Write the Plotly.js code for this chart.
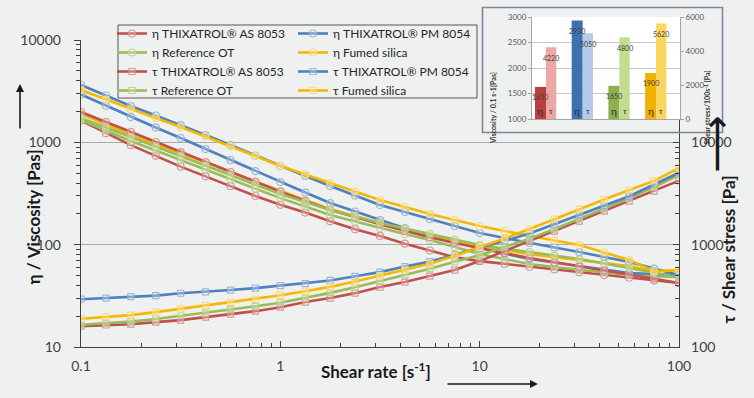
<!DOCTYPE html>
<html><head><meta charset="utf-8">
<script src="https://cdn.plot.ly/plotly-3.0.1.min.js"></script>
<style>html,body{margin:0;padding:0;background:#eff1f0;overflow:hidden}#chart{width:754px;height:398px}</style>
</head><body><div id="chart"></div>
<script>
// ---------- data ----------
const shearRate = [0.1, 0.1334, 0.1778, 0.2371, 0.3162, 0.4217, 0.5623, 0.7499, 1, 1.334, 1.778, 2.371, 3.162, 4.217, 5.623, 7.499, 10, 13.34, 17.78, 23.71, 31.62, 42.17, 56.23, 74.99, 100];

const etaAS8053Up   = [1978, 1579, 1261, 1007, 804, 642, 513, 411, 330, 268, 218, 186, 158, 137, 118, 104, 92, 82.5, 74, 67, 61, 55.8, 51, 46.5, 42.2];
const etaAS8053Down = [1630, 1229, 939, 738, 579, 465, 373, 299, 245, 206, 169, 141.7, 121.8, 102.2, 87.7, 75.3, 69.1, 64.9, 61, 57.3, 53.8, 50.5, 47.5, 44.6, 42.2];
const etaRefOTUp    = [1728, 1396, 1127, 910, 735, 593, 479, 387, 312, 261, 218, 188, 162.6, 143.6, 126.9, 112, 99.1, 91.6, 84.7, 78.3, 72.3, 65.4, 59.1, 53.3, 48];
const etaRefOTDown  = [1650, 1304, 1030, 831, 671, 542, 438, 353, 285, 236, 195, 168, 145.3, 127, 110.9, 94.7, 80.9, 72.3, 64.6, 60.4, 56.5, 53.4, 50.5, 49, 48];
const etaPM8054Up   = [3632, 2870, 2263, 1828, 1476, 1179, 941, 743, 587, 469, 374, 302, 244, 208, 178, 152, 129.9, 116, 103.6, 93.7, 84.7, 75.7, 67.6, 58.4, 50.5];
const etaPM8054Down = [2930, 2275, 1767, 1395, 1102, 860, 671, 524, 409, 323, 255, 211, 174, 145, 121.4, 106, 92.6, 81.8, 72.3, 66.8, 61.8, 57.1, 52.8, 51.6, 50.5];
const etaFumedUp    = [3245, 2620, 2116, 1728, 1411, 1139, 920, 735, 587, 485, 400, 330, 273, 233, 199, 174, 152, 136, 121.4, 110, 99.1, 84, 71, 55, 56.2];
const etaFumedDown  = [1900, 1497, 1179, 963, 786, 635, 513, 414, 334, 273, 223, 190, 162.6, 140.5, 121.4, 108.5, 96.9, 88.5, 80.9, 75.6, 70.7, 66.1, 61.8, 55, 56.2];

const tauAS8053 = [160, 164, 167, 175, 183, 196, 210, 224, 245, 275, 301, 336, 385, 431, 493, 565, 691, 866, 1084, 1358, 1701, 2131, 2669, 3342, 4220];
const tauRefOT  = [165, 170, 177, 188, 202, 214, 232, 250, 271, 301, 338, 383, 440, 509, 582, 680, 790, 950, 1140, 1420, 1780, 2240, 2830, 3650, 4800];
const tauPM8054 = [293, 300, 310, 318, 335, 346, 360, 376, 397, 417, 447, 491, 539, 611, 683, 795, 926, 1091, 1285, 1584, 1954, 2408, 2969, 3870, 5050];
const tauFumed  = [189, 198, 205, 219, 236, 254, 273, 293, 320, 350, 387, 436, 498, 566, 650, 780, 940, 1150, 1420, 1780, 2220, 2760, 3420, 4200, 5620];

const matAS = 'THIXATROL® AS 8053';
const matRef = 'Reference OT';
const matPM = 'THIXATROL® PM 8054';
const matFumed = 'Fumed silica';

// inset (order: AS 8053, PM 8054, Reference OT, Fumed silica)
const insetIndex = [0, 1, 2, 3];
const insetEta = [1630, 2930, 1650, 1900];
const insetTau = [4220, 5050, 4800, 5620];

const xTickVals = [0.1, 1, 10, 100];
const xTickText = ['0.1', '1', '10', '100'];
const etaTickVals = [10, 100, 1000, 10000];
const etaTickText = ['10', '100', '1000', '10000'];
const tauTickVals = [100, 1000, 10000];
const tauTickText = ['100', '1000', '10000'];
const insetEtaTicks = [1000, 1500, 2000, 2500, 3000];
const insetTauTicks = [0, 2000, 4000, 6000];

// ---------- styling ----------
const FONT = 'Lato, "Open Sans", sans-serif';
const BG = '#eff1f0';
const LC = {red:'#c0504d', green:'#9bbb59', blue:'#4f81bd', yellow:'#f5b800'};
const MC = {red:'rgba(214,140,138,0.9)', green:'rgba(184,210,136,0.9)', blue:'rgba(146,176,216,0.9)', yellow:'rgba(250,216,110,0.95)'};

function series(name, y, axis, col, sym, legend, show) {
  return {type:'scatter', mode:'lines+markers', name:name, x:shearRate, y:y,
    xaxis:'x', yaxis:axis, legend:legend, showlegend:show, hoverinfo:'skip',
    line:{color:LC[col], width:2.6},
    marker:{symbol:sym, size:sym === 'circle' ? 7 : 6, color:'rgba(255,255,255,0.25)', line:{color:MC[col], width:1.2}}};
}

const traces = [
  series('η ' + matAS, etaAS8053Down, 'y', 'red', 'circle', 'legend', false),
  series('η ' + matRef, etaRefOTDown, 'y', 'green', 'circle', 'legend', false),
  series('η ' + matPM, etaPM8054Down, 'y', 'blue', 'circle', 'legend2', false),
  series('η ' + matFumed, etaFumedDown, 'y', 'yellow', 'circle', 'legend2', false),
  series('η ' + matAS, etaAS8053Up, 'y', 'red', 'circle', 'legend', true),
  series('η ' + matRef, etaRefOTUp, 'y', 'green', 'circle', 'legend', true),
  series('τ ' + matAS, tauAS8053, 'y2', 'red', 'square', 'legend', true),
  series('τ ' + matRef, tauRefOT, 'y2', 'green', 'square', 'legend', true),
  series('η ' + matPM, etaPM8054Up, 'y', 'blue', 'circle', 'legend2', true),
  series('η ' + matFumed, etaFumedUp, 'y', 'yellow', 'circle', 'legend2', true),
  series('τ ' + matPM, tauPM8054, 'y2', 'blue', 'square', 'legend2', true),
  series('τ ' + matFumed, tauFumed, 'y2', 'yellow', 'square', 'legend2', true),
  {type:'bar', x:insetIndex, y:insetEta, xaxis:'x3', yaxis:'y4', offset:-0.3, width:0.3,
   marker:{color:['#b9403c', '#3f70b0', '#8db04c', '#f2b000']}, showlegend:false, hoverinfo:'skip'},
  {type:'bar', x:insetIndex, y:insetTau, xaxis:'x3', yaxis:'y5', offset:0, width:0.28,
   marker:{color:['#eda8a6', '#b6cbe8', '#c2dc90', '#fbd55e']}, showlegend:false, hoverinfo:'skip'}
];

const W = 754, H = 398;
const px = v => v / W;
const py = v => 1 - v / H;
const axisFont = {family:FONT, size:14, color:'#404040'};
const insetFont = {family:FONT, size:8, color:'#595959'};
const titleFont = {family:FONT, size:17, color:'#1a1a1a'};
const arrowStyle = {text:'', showarrow:true, arrowhead:2, arrowsize:1, arrowwidth:1.6, arrowcolor:'#1a1a1a', xref:'paper', yref:'paper', axref:'paper', ayref:'paper'};

const annotations = [
  {xref:'paper', yref:'paper', x:px(20), y:py(217), text:'<b>η / Viscosity [Pas]</b>', textangle:-90, showarrow:false, font:titleFont},
  Object.assign({}, arrowStyle, {x:px(20), y:py(84), ax:px(20), ay:py(130)}),
  {xref:'paper', yref:'paper', x:px(376), y:py(384), text:'<b>Shear rate [s<sup>-1</sup>]</b>', showarrow:false, font:titleFont},
  Object.assign({}, arrowStyle, {x:px(538), y:py(384), ax:px(446), ay:py(384)}),
  {xref:'paper', yref:'paper', x:px(740), y:py(250), text:'<b>τ / Shear stress [Pa]</b>', textangle:-90, showarrow:false, font:titleFont},
  {xref:'paper', yref:'paper', x:px(740), y:py(114), text:'⟶', textangle:-90, showarrow:false, font:{family:'DejaVu Sans', size:40, color:'#1a1a1a'}},
  {xref:'paper', yref:'paper', x:px(493), y:py(70), text:'<b>Viscosity / 0.1 s-1[Pas]</b>', textangle:-90, showarrow:false, font:{family:FONT, size:7, color:'#333'}},
  {xref:'paper', yref:'paper', x:px(713), y:py(69), text:'<b>Shear stress/100s<sup>-1</sup> [Pa]</b>', textangle:-90, showarrow:false, font:{family:FONT, size:7, color:'#333'}}
];
insetIndex.forEach((i, k) => {
  annotations.push({xref:'x3', yref:'y4', x:i - 0.15, y:insetEta[k], text:String(insetEta[k]), showarrow:false, yanchor:'top', yshift:-4, font:{family:FONT, size:7, color:'#404040'}});
  annotations.push({xref:'x3', yref:'y5', x:i + 0.14, y:insetTau[k], text:String(insetTau[k]), showarrow:false, yanchor:'top', yshift:-5, font:{family:FONT, size:7, color:'#404040'}});
  annotations.push({xref:'x3', yref:'y4 domain', x:i - 0.15, y:0, text:'η', showarrow:false, yanchor:'bottom', yshift:0, font:{family:FONT, size:10, color:'#1f2d4d'}});
  annotations.push({xref:'x3', yref:'y4 domain', x:i + 0.14, y:0, text:'τ', showarrow:false, yanchor:'bottom', yshift:1, font:{family:FONT, size:8, color:'#1f2d4d'}});
});

const layout = {
  width:W, height:H,
  margin:{l:0, r:0, t:0, b:0},
  paper_bgcolor:BG, plot_bgcolor:'#ffffff',
  font:{family:FONT, color:'#333'},
  barmode:'overlay',
  xaxis:{type:'log', domain:[px(81), px(679)], range:[-1, 2], anchor:'y',
    showline:true, linecolor:'#404040', linewidth:1.3, ticks:'inside', ticklen:6, tickcolor:'#404040',
    tickmode:'array', tickvals:xTickVals, ticktext:xTickText, tickfont:axisFont, ticklabelstandoff:6,
    showgrid:false, zeroline:false,
    minor:{ticks:'inside', ticklen:4, dtick:'D1', tickcolor:'#404040', showgrid:false}},
  yaxis:{type:'log', domain:[1 - 347 / H, 1 - 40 / H], range:[1, 4], anchor:'x',
    showline:true, linecolor:'#404040', linewidth:1.3, ticks:'outside', ticklen:6, tickcolor:'#404040',
    tickmode:'array', tickvals:etaTickVals, ticktext:etaTickText, tickfont:axisFont, ticklabelstandoff:10,
    showgrid:true, gridcolor:'#a9a9a9', gridwidth:1, zeroline:false,
    minor:{ticks:'outside', ticklen:4, dtick:'D1', tickcolor:'#404040', showgrid:false}},
  yaxis2:{type:'log', overlaying:'y', side:'right', anchor:'x', range:[2, 5],
    showline:true, linecolor:'#404040', linewidth:1.3, ticks:'inside', ticklen:6, tickcolor:'#404040',
    tickmode:'array', tickvals:tauTickVals, ticktext:tauTickText, tickfont:axisFont, ticklabelstandoff:8,
    showgrid:false, zeroline:false,
    minor:{ticks:'inside', ticklen:4, dtick:'D1', tickcolor:'#404040', showgrid:false}},
  // inset frame subplot (white box)
  xaxis2:{domain:[px(483), px(722)], range:[0, 1], anchor:'y3', showline:false,
    showticklabels:false, ticks:'', showgrid:false, zeroline:false, fixedrange:true},
  yaxis3:{domain:[1 - 132 / H, 1 - 8 / H], range:[0, 1], anchor:'x2', showline:false,
    showticklabels:false, ticks:'', showgrid:false, zeroline:false, fixedrange:true},
  // inset bar subplot
  xaxis3:{domain:[px(532), px(680)], range:[-0.381, 3.651], anchor:'y4', showticklabels:false, ticks:'',
    showline:true, linecolor:'#a6a6a6', showgrid:false, zeroline:false, fixedrange:true},
  yaxis4:{domain:[1 - 119 / H, 1 - 17 / H], range:[1000, 3000], anchor:'x3', tickmode:'array', tickvals:insetEtaTicks,
    showline:true, linecolor:'#a6a6a6', ticks:'outside', ticklen:3, tickcolor:'#a6a6a6', tickfont:insetFont,
    showgrid:true, gridcolor:'#c8c8c8', zeroline:false, fixedrange:true},
  yaxis5:{overlaying:'y4', side:'right', anchor:'x3', range:[0, 6000], tickmode:'array', tickvals:insetTauTicks,
    showline:true, linecolor:'#a6a6a6', ticks:'outside', ticklen:3, tickcolor:'#a6a6a6', tickfont:insetFont,
    showgrid:false, zeroline:false, fixedrange:true},
  shapes:[
    // main plot area keeps the page's grey tone
    {type:'rect', xref:'paper', yref:'paper', x0:px(81), x1:px(679), y0:py(347), y1:py(40), layer:'below', fillcolor:BG, line:{width:0}},
    // legend box
    {type:'rect', xref:'paper', yref:'paper', x0:px(118), x1:px(477), y0:py(98), y1:py(25), layer:'above', fillcolor:BG, line:{color:'#555', width:1}},
    // inset frame border
    {type:'rect', xref:'paper', yref:'paper', x0:px(482.5), x1:px(722.5), y0:py(132.5), y1:py(7.5), layer:'above', fillcolor:'rgba(0,0,0,0)', line:{color:'#80869a', width:1.6}}
  ],
  legend:{x:px(112), y:py(19), xanchor:'left', yanchor:'top', bgcolor:'rgba(0,0,0,0)', borderwidth:0,
    font:{family:FONT, size:12, color:'#262626'}, itemwidth:30, tracegroupgap:0},
  legend2:{x:px(293), y:py(19), xanchor:'left', yanchor:'top', bgcolor:'rgba(0,0,0,0)', borderwidth:0,
    font:{family:FONT, size:12, color:'#262626'}, itemwidth:30, tracegroupgap:0},
  annotations:annotations
};

Plotly.newPlot('chart', traces, layout, {displayModeBar:false, staticPlot:true});
</script>
</body></html>
